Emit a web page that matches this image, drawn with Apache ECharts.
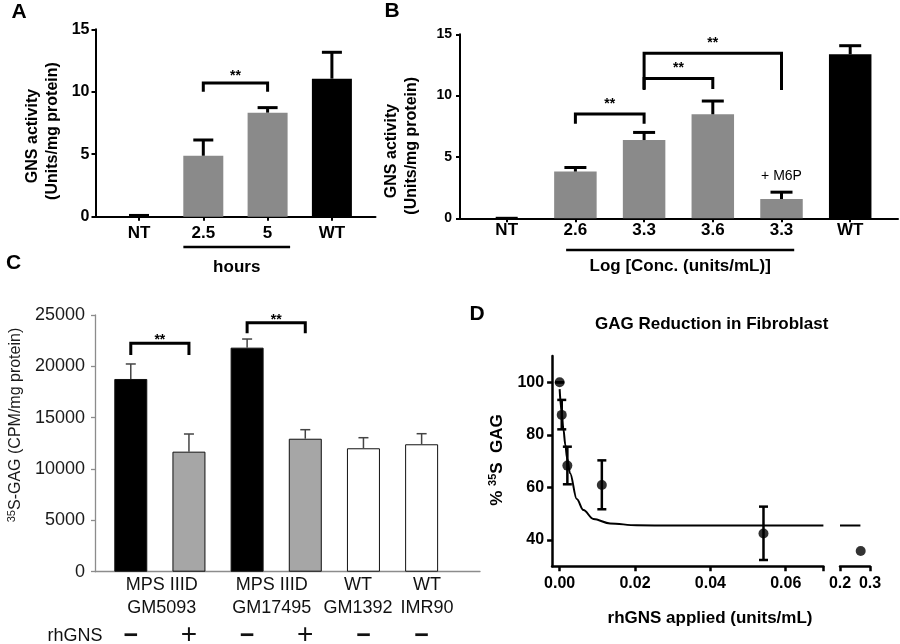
<!DOCTYPE html>
<html><head><meta charset="utf-8">
<script src="https://cdn.jsdelivr.net/npm/echarts@6/dist/echarts.min.js"></script>
<style>html,body{margin:0;padding:0;background:#fff}#c{width:900px;height:644px}</style>
</head><body><div id="c"></div>
<script>
// ---------------- DATA ----------------
// Panel A
const aCategories = ['NT', '2.5', '5', 'WT'];
const aMeans = [0, 4.88, 8.33, 11.05];
const aErrTop = [0.1, 6.14, 8.73, 13.16];
const aBrackets = [[1, 2, 10.7, 10.0, 10.0]]; // [from, to, top, leftEnd, rightEnd]
const aGroupSpan = [1, 2];
const aGroupLabel = 'hours';
// Panel B
const bCategories = ['NT', '2.6', '3.3', '3.6', '3.3', 'WT'];
const bMeans = [0, 3.81, 6.38, 8.48, 1.57, 13.37];
const bErrTop = [0, 4.14, 7.0, 9.56, 2.13, 14.07];
const bBrackets = [[1, 2, 8.5, 7.7, 7.7], [2, 3, 11.4, 10.55, 10.55], [2, 4, 13.45, 10.45, 10.45]];
const bNote = [4, 3.45];
const bNoteText = '+ M6P';
const bGroupSpan = [1, 4];
const bGroupLabel = 'Log [Conc. (units/mL)]';
// Panel C
const cTreatment = ['−', '+', '−', '+', '−', '−'];
const cGroupLabels = ['MPS IIID\nGM5093', 'MPS IIID\nGM17495', 'WT\nGM1392', 'WT\nIMR90'];
const cGroupSpans = [[0, 1], [2, 3], [4, 4], [5, 5]];
const cMeans = [18770, 11690, 21820, 12950, 12020, 12410];
const cErrTop = [20230, 13410, 22660, 13830, 13050, 13440];
const cBrackets = [[0, 1, 22250, 21100, 21100], [2, 3, 24250, 23220, 23220]];
// Panel D
const dX = [0, 0.00056, 0.00205, 0.0112, 0.0541];
const dY = [100, 87.6, 68.3, 60.9, 42.5];
const dLow = [100, 82.1, 61.2, 51.7, 32.4];
const dHigh = [100, 93.3, 75.5, 70.3, 52.7];
const dXHigh = [0.269];
const dYHigh = [35.8];
const dCurveX = [0, 0.0005, 0.001, 0.0015, 0.002, 0.00276, 0.00454, 0.00631, 0.00896, 0.0134, 0.0204, 0.03, 0.07];
const dCurveY = [97.4, 89.2, 82.2, 76.3, 71.0, 65.4, 55.6, 51.4, 48.0, 46.3, 45.6, 45.5, 45.5];
const dCurveHighX = [0.2, 0.268];
const dCurveHighY = [45.5, 45.5];

// ---------------- STYLE ----------------
const FF = '"Liberation Sans", Arial, Helvetica, sans-serif';
const GRAY_AB = '#8a8a8a';
const aColors = [GRAY_AB, GRAY_AB, GRAY_AB, '#000'];
const bColors = [GRAY_AB, GRAY_AB, GRAY_AB, GRAY_AB, GRAY_AB, '#000'];
const cColors = ['#000', '#a6a6a6', '#000', '#a6a6a6', '#fff', '#fff'];
const cGroupLabelDx = [2, -4.5, -5.5, 5.5]; // label nudges in px

function errorBar(cap, lw, color, both) {
  return function (params, api) {
    const x = api.value(0);
    const lo = api.coord([x, api.value(1)]);
    const hi = api.coord([x, api.value(2)]);
    const st = { stroke: color, lineWidth: lw, fill: 'none' };
    const ch = [
      { type: 'line', shape: { x1: lo[0], y1: lo[1], x2: hi[0], y2: hi[1] }, style: st },
      { type: 'line', shape: { x1: hi[0] - cap / 2, y1: hi[1], x2: hi[0] + cap / 2, y2: hi[1] }, style: st }
    ];
    if (both) ch.push({ type: 'line', shape: { x1: lo[0] - cap / 2, y1: lo[1], x2: lo[0] + cap / 2, y2: lo[1] }, style: st });
    return { type: 'group', children: ch };
  };
}
function bracket(lw, fs, gap, weight) {
  return function (params, api) {
    const a = api.coord([api.value(0), api.value(2)]);
    const b = api.coord([api.value(1), api.value(2)]);
    const ya = api.coord([api.value(0), api.value(3)])[1];
    const yb = api.coord([api.value(1), api.value(4)])[1];
    return { type: 'group', children: [
      { type: 'polyline', shape: { points: [[a[0], ya], [a[0], a[1]], [b[0], b[1]], [b[0], yb]] },
        style: { stroke: '#000', lineWidth: lw, fill: 'none' } },
      { type: 'text', x: (a[0] + b[0]) / 2, y: a[1] - gap,
        style: { text: '**', fill: '#000', fontSize: fs, fontWeight: weight, fontFamily: FF, align: 'center', verticalAlign: 'bottom' } }
    ] };
  };
}
function groupLine(text, leftFrac, rightFrac, dy, textDy) {
  return function (params, api) {
    const p0 = api.coord([api.value(0), 0]);
    const p1 = api.coord([api.value(1), 0]);
    const bw = api.size([1, 0])[0];
    const x0 = p0[0] + leftFrac * bw, x1 = p1[0] + rightFrac * bw;
    return { type: 'group', children: [
      { type: 'line', shape: { x1: x0, y1: p0[1] + dy, x2: x1, y2: p0[1] + dy }, style: { stroke: '#000', lineWidth: 2.5 } },
      { type: 'text', x: (x0 + x1) / 2, y: p0[1] + textDy,
        style: { text: text, fill: '#000', fontSize: 17, fontWeight: 'bold', fontFamily: FF, align: 'center', verticalAlign: 'middle' } }
    ] };
  };
}

const baseGrid = { containLabel: false, outerBoundsMode: 'none' };
const grids = [
  { left: 95.5, top: 29.3, width: 280, height: 187.4 },
  { left: 106.85, top: 29.3, width: 257.2, height: 187.4 },
  { left: 460, top: 34.3, width: 438, height: 184 },
  { left: 472.35, top: 34.3, width: 412.2, height: 184 },
  { left: 95, top: 315, width: 385, height: 256.7 },
  { left: 101.7, top: 315, width: 349, height: 256.7 },
  { left: 552.1, top: 356, width: 271.3, height: 210.3 },
  { left: 840, top: 356, width: 30, height: 210.3 }
].map(g => Object.assign({}, baseGrid, g));

function frameX(gi, color, lw) {
  return { type: 'value', gridIndex: gi, min: 0, max: 1, axisLine: { show: true, onZero: false, lineStyle: { color: color, width: lw } },
    axisTick: { show: false }, axisLabel: { show: false }, splitLine: { show: false } };
}
function hiddenY(gi, min, max) {
  return { type: 'value', gridIndex: gi, min: min, max: max, show: false, splitLine: { show: false } };
}
const boldLbl = (fs, margin) => ({ fontSize: fs, fontWeight: 'bold', fontFamily: FF, color: '#000', margin: margin, hideOverlap: false, showMinLabel: true, showMaxLabel: true });

const xAxis = [
  frameX(0, '#000', 2),
  { type: 'category', gridIndex: 1, data: aCategories, axisLine: { show: false },
    axisTick: { show: true, alignWithLabel: true, length: 4, lineStyle: { color: '#000', width: 2 } },
    axisLabel: Object.assign({ interval: 0 }, boldLbl(17, 8)) },
  frameX(2, '#000', 2),
  { type: 'category', gridIndex: 3, data: bCategories, axisLine: { show: false },
    axisTick: { show: true, alignWithLabel: true, length: 4, lineStyle: { color: '#000', width: 2 } },
    axisLabel: Object.assign({ interval: 0 }, boldLbl(17, 4)) },
  frameX(4, '#8c8c8c', 1.3),
  { type: 'category', gridIndex: 5, data: cTreatment, axisLine: { show: false }, axisTick: { show: false },
    axisLabel: { interval: 0, margin: 64, verticalAlign: 'middle', hideOverlap: false,
      formatter: v => v === '+' ? '{p|+}' : '{m|−}',
      rich: { p: { fontSize: 28, fontFamily: FF, color: '#111', lineHeight: 28 },
              m: { fontSize: 25, fontWeight: 'bold', fontFamily: FF, color: '#111', lineHeight: 28 } } } },
  { type: 'value', gridIndex: 6, min: -0.002, max: 0.07,
    axisLine: { show: true, onZero: false, lineStyle: { color: '#000', width: 2.5 } },
    axisTick: { show: true, length: 5, lineStyle: { color: '#000', width: 2.5 }, customValues: [0, 0.02, 0.04, 0.06, 0.07] },
    axisLabel: Object.assign({ customValues: [0, 0.02, 0.04, 0.06], formatter: v => (Math.abs(v / 0.02 - Math.round(v / 0.02)) < 1e-6 && v <= 0.0601 && v >= 0) ? v.toFixed(2) : '' }, boldLbl(16, 9)),
    splitLine: { show: false } },
  { type: 'value', gridIndex: 7, min: 0.2, max: 0.3,
    axisLine: { show: true, onZero: false, lineStyle: { color: '#000', width: 2.5 } },
    axisTick: { show: true, length: 5, lineStyle: { color: '#000', width: 2.5 }, customValues: [0.2, 0.3] },
    axisLabel: Object.assign({ customValues: [0.2, 0.3], formatter: v => v.toFixed(1) }, boldLbl(16, 9)),
    splitLine: { show: false } }
];
const yAxis = [
  { type: 'value', gridIndex: 0, min: 0, max: 15, interval: 5,
    axisLine: { show: true, onZero: false, lineStyle: { color: '#000', width: 2 } },
    axisTick: { show: true, length: 4, lineStyle: { color: '#000', width: 2 } },
    axisLabel: boldLbl(16, 6), splitLine: { show: false } },
  hiddenY(1, 0, 15),
  { type: 'value', gridIndex: 2, min: 0, max: 15, interval: 5,
    axisLine: { show: true, onZero: false, lineStyle: { color: '#000', width: 2 } },
    axisTick: { show: true, length: 4, lineStyle: { color: '#000', width: 2 } },
    axisLabel: boldLbl(14, 8), splitLine: { show: false } },
  hiddenY(3, 0, 15),
  { type: 'value', gridIndex: 4, min: 0, max: 25000, interval: 5000,
    axisLine: { show: true, onZero: false, lineStyle: { color: '#8c8c8c', width: 1.3 } },
    axisTick: { show: true, length: 4, lineStyle: { color: '#8c8c8c', width: 1.3 } },
    axisLabel: { fontSize: 18, fontFamily: FF, color: '#1a1a1a', margin: 10, formatter: v => String(v) }, splitLine: { show: false } },
  hiddenY(5, 0, 25000),
  { type: 'value', gridIndex: 6, min: 30, max: 110,
    axisLine: { show: true, onZero: false, lineStyle: { color: '#000', width: 2.5 } },
    axisTick: { show: true, length: 5, lineStyle: { color: '#000', width: 2.5 }, customValues: [40, 60, 80, 100] },
    axisLabel: Object.assign({ customValues: [40, 60, 80, 100], formatter: v => (v % 20 === 0 && v >= 40 && v <= 100) ? String(v) : '' }, boldLbl(16, 8)),
    splitLine: { show: false } },
  hiddenY(7, 30, 110)
];

const series = [
  // Panel A
  { type: 'bar', xAxisIndex: 1, yAxisIndex: 1, barWidth: 40, z: 2,
    data: aMeans.map((v, i) => ({ value: v, itemStyle: { color: aColors[i] } })) },
  { type: 'custom', xAxisIndex: 1, yAxisIndex: 1, z: 3, renderItem: errorBar(20, 3, '#000', false),
    encode: { x: 0, y: [1, 2] }, data: aMeans.map((m, i) => [i, m, aErrTop[i]]) },
  { type: 'custom', xAxisIndex: 1, yAxisIndex: 1, z: 3, renderItem: bracket(3, 14, 0, 'bold'),
    encode: { x: [0, 1], y: [2, 3, 4] }, data: aBrackets },
  { type: 'custom', xAxisIndex: 1, yAxisIndex: 1, z: 3, renderItem: groupLine(aGroupLabel, -0.31, 0.35, 30.3, 51),
    encode: { x: [0, 1], y: 2 }, data: [[aGroupSpan[0], aGroupSpan[1], 0]] },
  // Panel B
  { type: 'bar', xAxisIndex: 3, yAxisIndex: 3, barWidth: 42.5, z: 2,
    data: bMeans.map((v, i) => ({ value: v, itemStyle: { color: bColors[i] } })) },
  { type: 'custom', xAxisIndex: 3, yAxisIndex: 3, z: 3, renderItem: errorBar(22, 3, '#000', false),
    encode: { x: 0, y: [1, 2] }, data: bMeans.map((m, i) => [i, m, bErrTop[i]]) },
  { type: 'custom', xAxisIndex: 3, yAxisIndex: 3, z: 3, renderItem: bracket(3, 14, 3, 'bold'),
    encode: { x: [0, 1], y: [2, 3, 4] }, data: bBrackets },
  { type: 'custom', xAxisIndex: 3, yAxisIndex: 3, z: 3, renderItem: groupLine(bGroupLabel, -0.135, 0.185, 31.7, 47.7),
    encode: { x: [0, 1], y: 2 }, data: [[bGroupSpan[0], bGroupSpan[1], 0]] },
  { type: 'custom', xAxisIndex: 3, yAxisIndex: 3, z: 3, encode: { x: 0, y: 1 }, data: [bNote],
    renderItem: (params, api) => {
      const p = api.coord([api.value(0), api.value(1)]);
      return { type: 'text', x: p[0], y: p[1], style: { text: bNoteText, fill: '#000', fontSize: 14, fontFamily: FF, align: 'center', verticalAlign: 'middle' } };
    } },
  // Panel C
  { type: 'bar', xAxisIndex: 5, yAxisIndex: 5, barWidth: 33, z: 2,
    data: cMeans.map((v, i) => ({ value: v, itemStyle: { color: cColors[i], borderColor: '#111', borderWidth: 1 } })) },
  { type: 'custom', xAxisIndex: 5, yAxisIndex: 5, z: 3, renderItem: errorBar(10, 1.5, '#444', false),
    encode: { x: 0, y: [1, 2] }, data: cMeans.map((m, i) => [i, m, cErrTop[i]]) },
  { type: 'custom', xAxisIndex: 5, yAxisIndex: 5, z: 3, renderItem: bracket(3, 14, -4, 'bold'),
    encode: { x: [0, 1], y: [2, 3, 4] }, data: cBrackets },
  { type: 'custom', xAxisIndex: 5, yAxisIndex: 5, z: 3, encode: { x: [0, 1], y: 2 },
    data: cGroupSpans.map((s, i) => [s[0], s[1], 0, i]),
    renderItem: (params, api) => {
      const p0 = api.coord([api.value(0), 0]);
      const p1 = api.coord([api.value(1), 0]);
      const k = api.value(3);
      return { type: 'text', x: (p0[0] + p1[0]) / 2 + cGroupLabelDx[k], y: p0[1] + 24.8,
        style: { text: cGroupLabels[k], fill: '#111', fontSize: 18, lineHeight: 23, fontFamily: FF, align: 'center', verticalAlign: 'middle' } };
    } },
  // Panel D
  { type: 'line', xAxisIndex: 6, yAxisIndex: 6, z: 2, smooth: 0.35, smoothMonotone: 'x', showSymbol: false, symbol: 'none',
    lineStyle: { color: '#000', width: 2 }, data: dCurveX.map((x, i) => [x, dCurveY[i]]) },
  { type: 'custom', xAxisIndex: 6, yAxisIndex: 6, z: 3, renderItem: errorBar(9, 2.5, '#000', true),
    encode: { x: 0, y: [1, 2] }, data: dX.map((x, i) => [x, dLow[i], dHigh[i]]) },
  { type: 'scatter', xAxisIndex: 6, yAxisIndex: 6, z: 4, symbol: 'circle', symbolSize: 10,
    itemStyle: { color: '#000' }, data: dX.map((x, i) => [x, dY[i]]) },
  { type: 'line', xAxisIndex: 7, yAxisIndex: 7, z: 2, showSymbol: false, symbol: 'none',
    lineStyle: { color: '#000', width: 2 }, data: dCurveHighX.map((x, i) => [x, dCurveHighY[i]]) },
  { type: 'scatter', xAxisIndex: 7, yAxisIndex: 7, z: 4, symbol: 'circle', symbolSize: 10,
    itemStyle: { color: '#000' }, data: dXHigh.map((x, i) => [x, dYHigh[i]]) }
];

function gText(x, y, text, opts, rot) {
  return { type: 'text', x: x, y: y, rotation: rot || 0, silent: true,
    style: Object.assign({ text: text, fill: '#000', fontFamily: FF, align: 'center', verticalAlign: 'middle' }, opts) };
}
const R = Math.PI / 2;
const graphic = [
  gText(19, 12.5, 'A', { fontSize: 21, fontWeight: 'bold' }),
  gText(392, 11, 'B', { fontSize: 21, fontWeight: 'bold' }),
  gText(13.5, 263.5, 'C', { fontSize: 21, fontWeight: 'bold' }),
  gText(477, 314, 'D', { fontSize: 21, fontWeight: 'bold' }),
  gText(32.5, 136, 'GNS activity', { fontSize: 16, fontWeight: 'bold' }, R),
  gText(52.5, 131, '(Units/mg protein)', { fontSize: 16, fontWeight: 'bold' }, R),
  gText(391.7, 151, 'GNS activity', { fontSize: 16, fontWeight: 'bold' }, R),
  gText(411.7, 145.8, '(Units/mg protein)', { fontSize: 16, fontWeight: 'bold' }, R),
  gText(16, 425, '{s|35}{t|S-GAG (CPM/mg protein)}', { fill: '#1a1a1a',
    rich: { s: { fontSize: 11, fontFamily: FF, fill: '#1a1a1a', verticalAlign: 'top', lineHeight: 19 },
            t: { fontSize: 16, fontFamily: FF, fill: '#1a1a1a', lineHeight: 19 } } }, R),
  gText(497, 460, '{t|% }{s|35}{t|S  GAG}', {
    rich: { s: { fontSize: 11, fontWeight: 'bold', fontFamily: FF, fill: '#000', verticalAlign: 'top', lineHeight: 20 },
            t: { fontSize: 17, fontWeight: 'bold', fontFamily: FF, fill: '#000', lineHeight: 20 } } }, R),
  gText(711.7, 324, 'GAG Reduction in Fibroblast', { fontSize: 17, fontWeight: 'bold' }),
  gText(710, 618, 'rhGNS applied (units/mL)', { fontSize: 17, fontWeight: 'bold' }),
  gText(75, 635.7, 'rhGNS', { fontSize: 18, fill: '#111' })
];

const chart = echarts.init(document.getElementById('c'), null, { renderer: 'canvas', width: 900, height: 644 });
chart.setOption({
  animation: false,
  backgroundColor: '#fff',
  textStyle: { fontFamily: FF },
  grid: grids, xAxis: xAxis, yAxis: yAxis, series: series, graphic: graphic
});
</script>
</body></html>
